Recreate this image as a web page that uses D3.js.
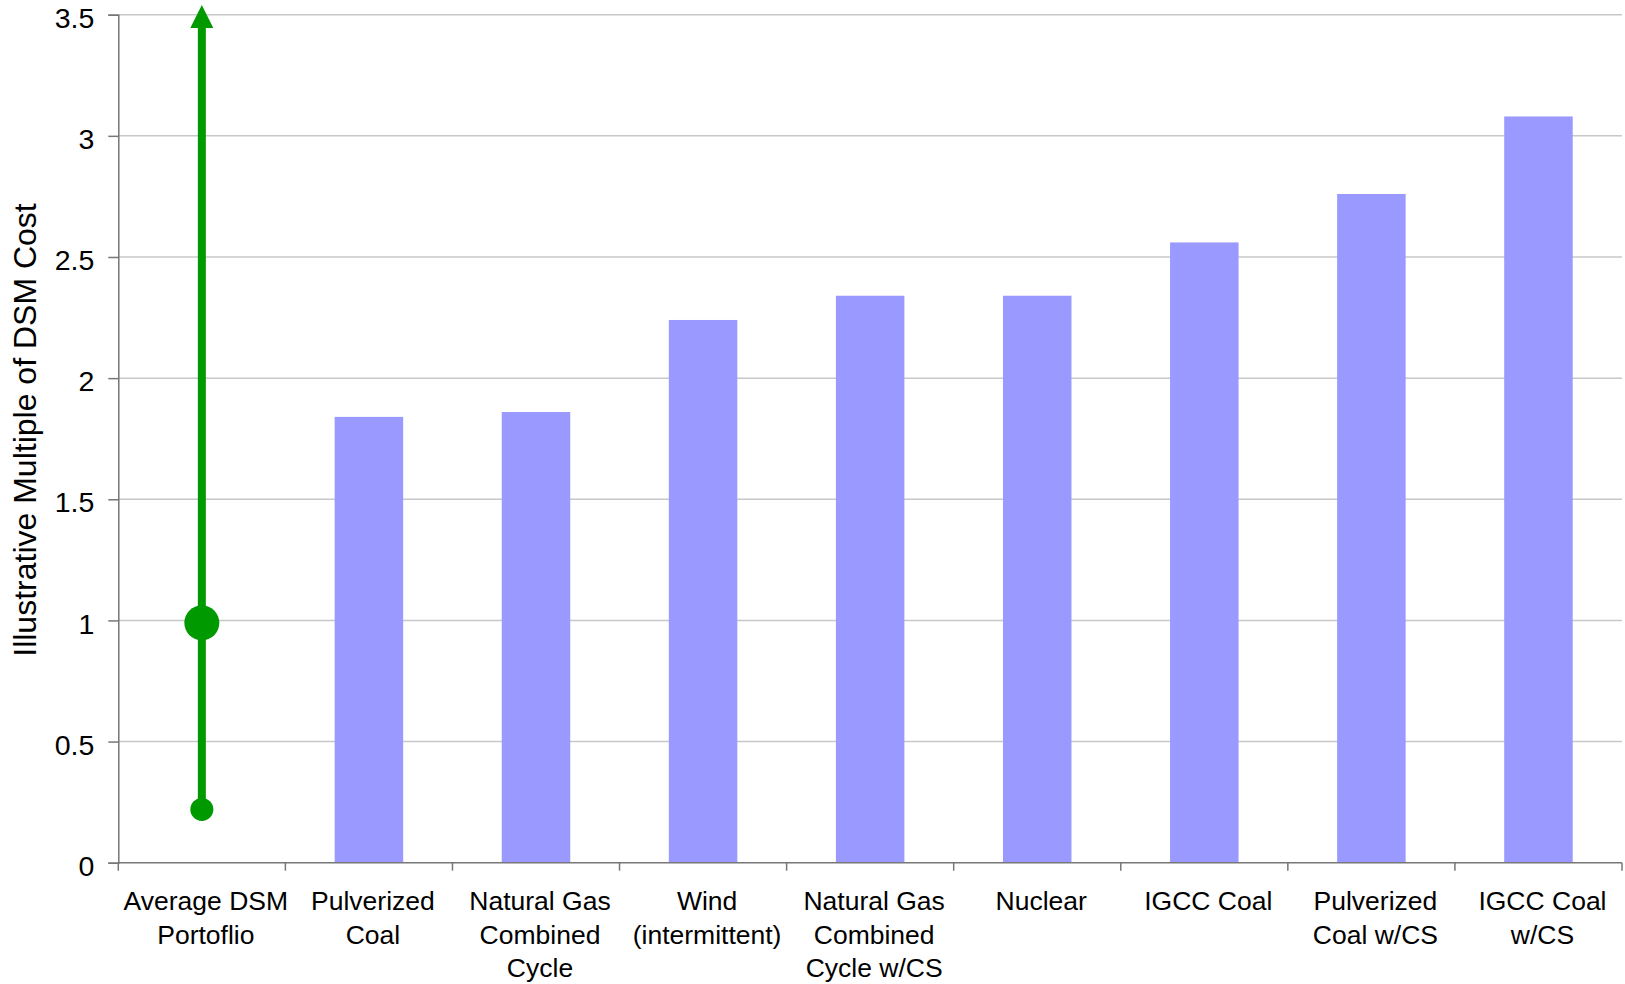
<!DOCTYPE html>
<html>
<head>
<meta charset="utf-8">
<script src="https://cdn.jsdelivr.net/npm/d3@7"></script>
<style>
  html, body { margin: 0; padding: 0; background: #fff; }
  svg { display: block; }
  text { font-family: "Liberation Sans", Arial, sans-serif; fill: #000; }
</style>
</head>
<body>
<svg id="chart" width="1625" height="984"></svg>
<script>
// Category labels (line breaks mark where each label wraps)
const categories = [
  "Average DSM\nPortoflio",
  "Pulverized\nCoal",
  "Natural Gas\nCombined\nCycle",
  "Wind\n(intermittent)",
  "Natural Gas\nCombined\nCycle w/CS",
  "Nuclear",
  "IGCC Coal",
  "Pulverized\nCoal w/CS",
  "IGCC Coal\nw/CS"
];

// Cost multiples for each supply-side option (null for the DSM range column)
const costMultiple = [null, 1.84, 1.86, 2.24, 2.34, 2.34, 2.56, 2.76, 3.08];

// DSM portfolio range: low end, average, and the open-ended top (arrow tip)
const dsmLow = 0.22;
const dsmAverage = 0.99;
const dsmArrowTip = 3.54;

const yTicks = [0, 0.5, 1, 1.5, 2, 2.5, 3, 3.5];
const yTickLabels = ["0", "0.5", "1", "1.5", "2", "2.5", "3", "3.5"];
const yTitle = "Illustrative Multiple of DSM Cost";

const svg = d3.select("#chart");
const plotLeft = 118.3, plotRight = 1622, plotTop = 14.7, plotBottom = 862.7;

const x = d3.scaleBand().domain(d3.range(categories.length)).range([plotLeft, plotRight]).padding(0);
const y = d3.scaleLinear().domain([0, 3.5]).range([plotBottom, plotTop]);

// Horizontal gridlines
svg.append("g").selectAll("line").data(yTicks.filter(d => d > 0)).join("line")
  .attr("x1", plotLeft).attr("x2", plotRight)
  .attr("y1", d => y(d)).attr("y2", d => y(d))
  .attr("stroke", "#c8c8c8").attr("stroke-width", 1.5);

// Bars
const barW = x.bandwidth() * 0.41;
svg.append("g").selectAll("rect")
  .data(costMultiple.map((v, i) => ({ v, i })).filter(d => d.v !== null))
  .join("rect")
  .attr("x", d => x(d.i) + x.bandwidth() / 2 - barW / 2)
  .attr("width", barW)
  .attr("y", d => y(d.v))
  .attr("height", d => y(0) - y(d.v))
  .attr("fill", "#9999ff");

// Y axis (labels sit a little below their ticks)
const yAxis = d3.axisLeft(y).tickValues(yTicks)
  .tickFormat((d, i) => yTickLabels[i]).tickSize(10).tickPadding(14);
const gy = svg.append("g").attr("transform", `translate(${plotLeft},0)`).call(yAxis);
gy.select(".domain").attr("stroke", "#777").attr("stroke-width", 1.5);
gy.selectAll(".tick line").attr("stroke", "#777").attr("stroke-width", 1.5);
gy.selectAll(".tick text").attr("font-size", 28.5).attr("font-family", "Liberation Sans, Arial, sans-serif")
  .attr("fill", "#000").attr("y", 3.5);

// X axis baseline with ticks at category boundaries
const boundaries = d3.range(categories.length + 1).map(i => plotLeft + i * x.bandwidth());
svg.append("line").attr("x1", plotLeft).attr("x2", plotRight).attr("y1", plotBottom).attr("y2", plotBottom)
  .attr("stroke", "#777").attr("stroke-width", 1.5);
svg.append("g").selectAll("line").data(boundaries).join("line")
  .attr("x1", d => d).attr("x2", d => d)
  .attr("y1", plotBottom).attr("y2", plotBottom + 8)
  .attr("stroke", "#777").attr("stroke-width", 1.5);

// Category labels, nudged slightly right of the band centres
const labelShift = 4;
const lbl = svg.append("g").selectAll("text").data(categories).join("text")
  .attr("text-anchor", "middle")
  .attr("font-size", 26.5);
lbl.each(function(d, i) {
  const t = d3.select(this);
  const lx = x(i) + x.bandwidth() / 2 + labelShift;
  d.split("\n").forEach((line, k) => {
    t.append("tspan").attr("x", lx).attr("y", 910 + k * 33.5).text(line);
  });
});

// Y axis title
svg.append("text")
  .attr("transform", "translate(35.5,430) rotate(-90)")
  .attr("text-anchor", "middle")
  .attr("font-size", 32)
  .text(yTitle);

// DSM range: stem, arrowhead, low-end dot and average dot
const cx = x(0) + x.bandwidth() / 2;
const green = "#009900";
const headH = 23, headW = 23;
svg.append("line")
  .attr("x1", cx).attr("x2", cx)
  .attr("y1", y(dsmLow)).attr("y2", y(dsmArrowTip) + headH - 2)
  .attr("stroke", green).attr("stroke-width", 8);
svg.append("path")
  .attr("d", `M${cx},${y(dsmArrowTip)} L${cx + headW / 2},${y(dsmArrowTip) + headH} L${cx - headW / 2},${y(dsmArrowTip) + headH} Z`)
  .attr("fill", green);
svg.append("circle").attr("cx", cx).attr("cy", y(dsmLow)).attr("r", 11.5).attr("fill", green);
svg.append("circle").attr("cx", cx).attr("cy", y(dsmAverage)).attr("r", 17.5).attr("fill", green);
</script>
</body>
</html>
